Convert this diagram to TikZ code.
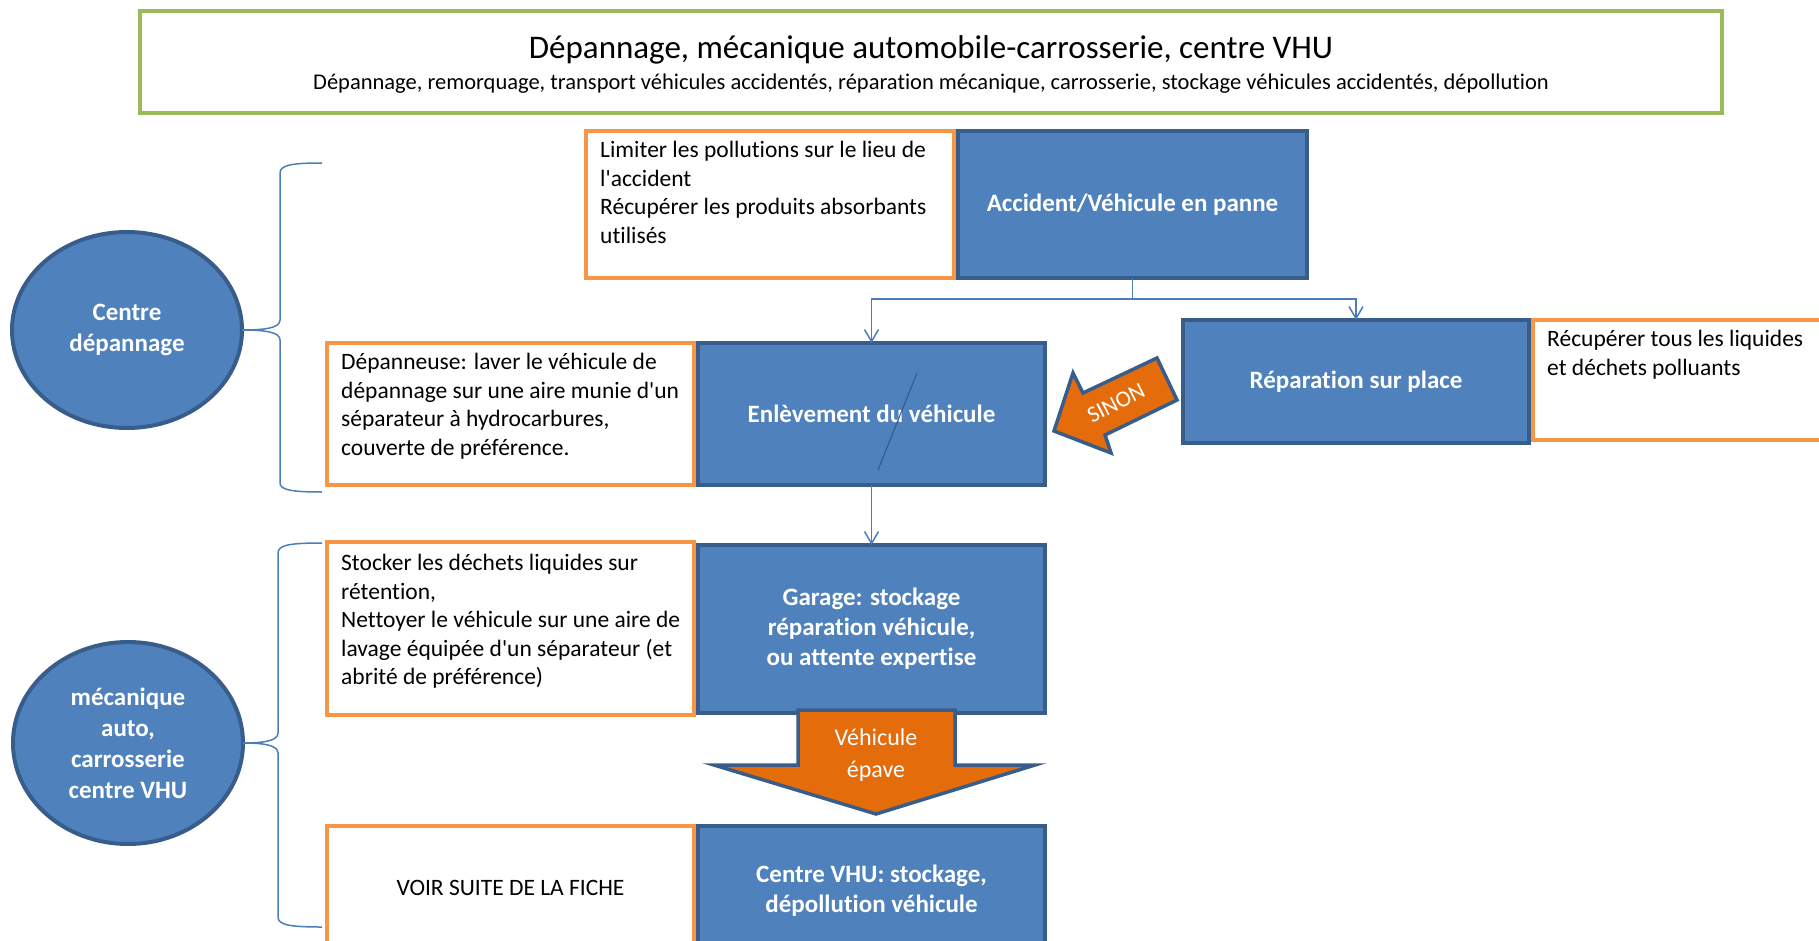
\documentclass[tikz,border=0pt]{standalone}
\usepackage{fontspec}
\setmainfont{Carlito}[Ligatures={NoCommon}]
\usetikzlibrary{arrows.meta,shapes.geometric}

\definecolor{boxblue}{HTML}{4F81BD}
\definecolor{boxedge}{HTML}{385D8A}
\definecolor{noteorange}{HTML}{F79646}
\definecolor{arroworange}{HTML}{E46C0A}
\definecolor{titlegreen}{HTML}{9BBB59}
\definecolor{linkblue}{HTML}{4A7EBB}

\tikzset{
  stepbox/.style={draw=boxedge, line width=4pt, fill=boxblue, text=white,
    font=\fontsize{25}{30}\selectfont\bfseries, align=center, inner sep=0pt, outer sep=0pt},
  notebox/.style={draw=noteorange, line width=4pt, fill=white, inner sep=0pt, outer sep=0pt},
  notetext/.style={font=\fontsize{23.5}{28.5}\selectfont, align=left, anchor=north west, inner sep=0pt},
  centre/.style={ellipse, draw=boxedge, line width=4pt, fill=boxblue, text=white,
    font=\fontsize{25}{31}\selectfont\bfseries, align=center, inner sep=0pt, outer sep=0pt},
  bigarrow/.style={draw=boxedge, line width=3.5pt, fill=arroworange, line join=miter},
  link/.style={draw=linkblue, line width=1.5pt, -{Straight Barb[length=12pt, width=14pt]}},
  brace/.style={draw=linkblue, line width=1.5pt},
}

\begin{document}
\begin{tikzpicture}[x=1pt, y=1pt]
  \useasboundingbox (0,0) rectangle (1819,-941);
  \clip (0,0) rectangle (1819,-941);

  % title
  \node[draw=titlegreen, line width=4pt, minimum width=1582pt, minimum height=102pt] (title) at (931,-62) {};
  \node[font=\fontsize{33}{36}\selectfont] (titlemain) at (931,-50) {Dépannage, mécanique automobile-carrosserie, centre VHU};
  \node[font=\fontsize{22.5}{24}\selectfont] (titlesub) at (931,-84) {Dépannage, remorquage, transport véhicules accidentés, réparation mécanique, carrosserie, stockage véhicules accidentés, dépollution};

  % notes
  \node[notebox, minimum width=368pt, minimum height=147pt] (noteAcc) at (770,-204.5) {};
  \node[notebox, minimum width=367pt, minimum height=142pt] (noteEnl) at (510.5,-414) {};
  \node[notebox, minimum width=307pt, minimum height=120pt] (noteRep) at (1686.5,-380) {};
  \node[notebox, minimum width=367pt, minimum height=173pt] (noteGar) at (510.5,-628.5) {};
  \node[notebox, minimum width=367pt, minimum height=129pt] (noteVHU) at (510.5,-890.5) {};

  \node[notetext] (noteAcctext) at ([xshift=14pt, yshift=-10pt]noteAcc.north west)
    {Limiter les pollutions sur le lieu de\\l\textquotesingle accident\\Récupérer les produits absorbants\\utilisés};
  \node[notetext] (noteEnltext) at ([xshift=14pt, yshift=-10pt]noteEnl.north west)
    {Dépanneuse: laver le véhicule de\\dépannage sur une aire munie d\textquotesingle un\\séparateur à hydrocarbures,\\couverte de préférence.};
  \node[notetext] (noteReptext) at ([xshift=14pt, yshift=-10pt]noteRep.north west)
    {Récupérer tous les liquides\\et déchets polluants};
  \node[notetext] (noteGartext) at ([xshift=14pt, yshift=-12pt]noteGar.north west)
    {Stocker les déchets liquides sur\\rétention,\\Nettoyer le véhicule sur une aire de\\lavage équipée d\textquotesingle un séparateur (et\\abrité de préférence)};
  \node[font=\fontsize{23.5}{28.5}\selectfont] (noteVHUtext) at ([yshift=3pt]noteVHU.center) {VOIR SUITE DE LA FICHE};

  % steps
  \node[stepbox, minimum width=349pt, minimum height=147pt] (accident) at (1132.5,-204.5) {Accident/Véhicule en panne};
  \node[stepbox, minimum width=347pt, minimum height=142pt] (enlevement) at (871.5,-414) {Enlèvement du véhicule};
  \node[stepbox, minimum width=346pt, minimum height=123pt] (reparation) at (1356,-381.5) {Réparation sur place};
  \node[stepbox, minimum width=347pt, minimum height=168pt] (garage) at (871.5,-629) {Garage: stockage\\réparation véhicule,\\ou attente expertise};
  \node[stepbox, minimum width=347pt, minimum height=129pt] (vhu) at (871.5,-890.5) {Centre VHU: stockage,\\dépollution véhicule};

  % links
  \coordinate (fork) at ([yshift=-21pt]accident.south);
  \draw[link] (accident.south) -- (fork) -| (enlevement.north);
  \draw[link] (fork) -| (reparation.north);
  \draw[link] (enlevement.south) -- (garage.north);
  \coordinate (strayA) at (878,-470);
  \coordinate (strayB) at (917,-373);
  \draw[linkblue!70!black, line width=1pt] (strayA) -- (strayB);

  % SINON
  \draw[bigarrow] (1054,-431) -- (1073,-373) -- (1083,-393) -- (1157,-358)
    -- (1177,-400) -- (1105,-435) -- (1111,-453) -- cycle;
  \node[rotate=27, text=white, font=\fontsize{23}{26}\selectfont] (sinon) at (1116,-403) {SINON};

  % epave
  \draw[bigarrow] (798,-710) -- (955,-710) -- (955,-765) -- (1035,-765)
    -- (876,-814) -- (714,-765) -- (798,-765) -- cycle;
  \node[align=center, text=white, font=\fontsize{24}{32}\selectfont] (epave) at (876,-755) {Véhicule\\épave};

  % centres
  \node[centre, minimum width=230pt, minimum height=196pt] (centreD) at (127,-330) {Centre\\dépannage};
  \node[centre, minimum width=230pt, minimum height=202pt] (centreM) at (128,-743) {mécanique\\auto,\\carrosserie\\centre VHU};

  \coordinate (braceDtop) at (322,-163);
  \coordinate (braceDbot) at (322,-492);
  \coordinate (braceMtop) at (322,-543);
  \coordinate (braceMbot) at (322,-927);
  \draw[brace] (braceDtop) .. controls (292,-163) and (280,-165) .. (280,-173) -- (280,-320)
    .. controls (280,-328) and (265,-330) .. (centreD.east)
    .. controls (265,-330) and (280,-332) .. (280,-340) -- (280,-483)
    .. controls (280,-490) and (292,-492) .. (braceDbot);
  \draw[brace] (braceMtop) .. controls (290,-543) and (278,-545) .. (278,-553) -- (278,-733)
    .. controls (278,-741) and (263,-743) .. (centreM.east)
    .. controls (263,-743) and (278,-745) .. (278,-753) -- (278,-917)
    .. controls (278,-925) and (290,-927) .. (braceMbot);
\end{tikzpicture}
\end{document}
